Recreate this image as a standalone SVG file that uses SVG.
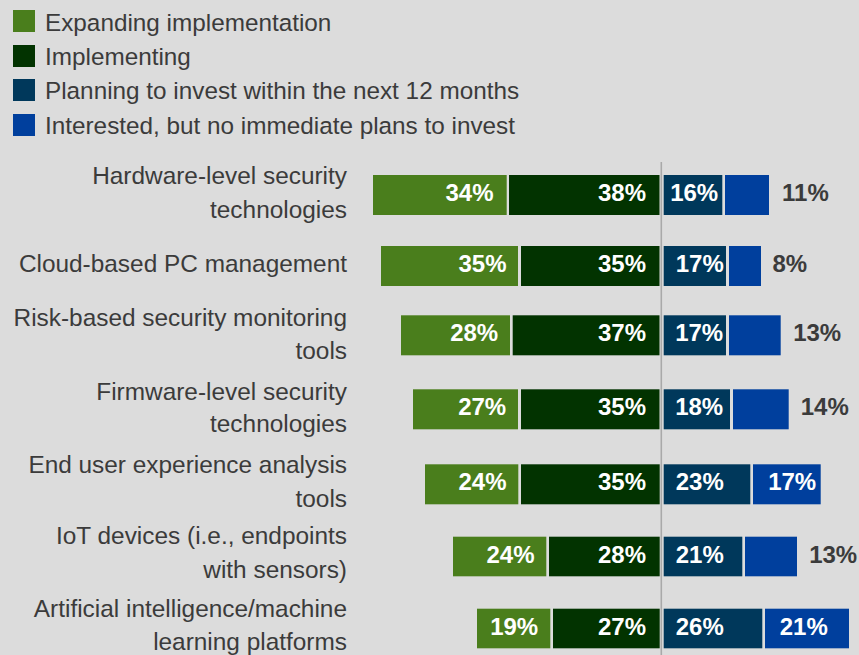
<svg xmlns="http://www.w3.org/2000/svg" width="859" height="655" viewBox="0 0 859 655">
<style>
.bg{fill:#dcdcdc}
.g{fill:#4a7e1c}
.d{fill:#023300}
.n{fill:#00385b}
.b{fill:#003f9d}
.lg{font-family:"Liberation Sans",Arial,Helvetica,sans-serif;font-size:24.3px;fill:#3b3b3b}
.lb{font-family:"Liberation Sans",Arial,Helvetica,sans-serif;font-size:24.4px;fill:#3b3b3b;text-anchor:end}
.v{font-family:"Liberation Sans",Arial,Helvetica,sans-serif;font-size:24px;font-weight:bold;fill:#ffffff;text-anchor:end}
.o{font-family:"Liberation Sans",Arial,Helvetica,sans-serif;font-size:24px;font-weight:bold;fill:#3b3b3b;text-anchor:end}
.axis{stroke:#a9a9a9;stroke-width:1.6;fill:none}
</style>
<rect class="bg" x="0" y="0" width="859" height="655"/>
<g id="legend">
<rect class="g" x="13" y="10" width="22" height="22"/>
<text class="lg" x="45" y="30.5">Expanding implementation</text>
<rect class="d" x="13" y="45" width="22" height="22"/>
<text class="lg" x="45" y="64.5">Implementing</text>
<rect class="n" x="13" y="79" width="22" height="22"/>
<text class="lg" x="45" y="99">Planning to invest within the next 12 months</text>
<rect class="b" x="13" y="114" width="22" height="22"/>
<text class="lg" x="45" y="133.5">Interested, but no immediate plans to invest</text>
</g>
<g id="connectors">
<line class="axis" x1="661.3" y1="162" x2="661.3" y2="655"/>
</g>
<g id="row1">
<text class="lb" x="347" y="184">Hardware-level security</text>
<text class="lb" x="347" y="217.5">technologies</text>
<rect class="g" x="373" y="175" width="133.7" height="40"/>
<rect class="d" x="509" y="175" width="150.5" height="40"/>
<rect class="n" x="663.7" y="175" width="58.6" height="40"/>
<rect class="b" x="725" y="175" width="44" height="40"/>
<text class="v" x="493.5" y="201">34%</text>
<text class="v" x="646" y="201">38%</text>
<text class="v" x="718.2" y="201">16%</text>
<text class="o" x="828.8" y="201">11%</text>
</g>
<g id="row2">
<text class="lb" x="347" y="271.7">Cloud-based PC management</text>
<rect class="g" x="381" y="246" width="137" height="40"/>
<rect class="d" x="521" y="246" width="138.5" height="40"/>
<rect class="n" x="663.7" y="246" width="62.3" height="40"/>
<rect class="b" x="729" y="246" width="32" height="40"/>
<text class="v" x="506.5" y="272">35%</text>
<text class="v" x="646" y="272">35%</text>
<text class="v" x="723.8" y="272">17%</text>
<text class="o" x="807.2" y="272">8%</text>
</g>
<g id="row3">
<text class="lb" x="347" y="326">Risk-based security monitoring</text>
<text class="lb" x="347" y="359.3">tools</text>
<rect class="g" x="401" y="315.3" width="109" height="40"/>
<rect class="d" x="512.7" y="315.3" width="146.8" height="40"/>
<rect class="n" x="663.7" y="315.3" width="62.3" height="40"/>
<rect class="b" x="729" y="315.3" width="51.7" height="40"/>
<text class="v" x="498.2" y="341.3">28%</text>
<text class="v" x="646" y="341.3">37%</text>
<text class="v" x="723.2" y="341.3">17%</text>
<text class="o" x="841.2" y="341.3">13%</text>
</g>
<g id="row4">
<text class="lb" x="347" y="400">Firmware-level security</text>
<text class="lb" x="347" y="431.7">technologies</text>
<rect class="g" x="413" y="389.3" width="105" height="40"/>
<rect class="d" x="521" y="389.3" width="138.5" height="40"/>
<rect class="n" x="663.7" y="389.3" width="66.3" height="40"/>
<rect class="b" x="733" y="389.3" width="55.7" height="40"/>
<text class="v" x="506.2" y="415.3">27%</text>
<text class="v" x="646" y="415.3">35%</text>
<text class="v" x="723.2" y="415.3">18%</text>
<text class="o" x="848.8" y="415.3">14%</text>
</g>
<g id="row5">
<text class="lb" x="347" y="473.3">End user experience analysis</text>
<text class="lb" x="347" y="506.7">tools</text>
<rect class="g" x="425" y="464.3" width="93.3" height="40"/>
<rect class="d" x="521" y="464.3" width="138.7" height="40"/>
<rect class="n" x="663.7" y="464.3" width="86.6" height="40"/>
<rect class="b" x="753" y="464.3" width="67.7" height="40"/>
<text class="v" x="506.5" y="490.3">24%</text>
<text class="v" x="646" y="490.3">35%</text>
<text class="v" x="723.8" y="490.3">23%</text>
<text class="v" x="816.2" y="490.3">17%</text>
</g>
<g id="row6">
<text class="lb" x="347" y="544.3">IoT devices (i.e., endpoints</text>
<text class="lb" x="347" y="577.7">with sensors)</text>
<rect class="g" x="453" y="536.7" width="93.3" height="39.6"/>
<rect class="d" x="549" y="536.7" width="110.7" height="39.6"/>
<rect class="n" x="663.7" y="536.7" width="78.6" height="39.6"/>
<rect class="b" x="745" y="536.7" width="52" height="39.6"/>
<text class="v" x="534.5" y="562.5">24%</text>
<text class="v" x="646" y="562.5">28%</text>
<text class="v" x="723.8" y="562.5">21%</text>
<text class="o" x="857.2" y="562.5">13%</text>
</g>
<g id="row7">
<text class="lb" x="347" y="616.7">Artificial intelligence/machine</text>
<text class="lb" x="347" y="650">learning platforms</text>
<rect class="g" x="477" y="608.7" width="73.3" height="39.6"/>
<rect class="d" x="553" y="608.7" width="106.7" height="39.6"/>
<rect class="n" x="663.7" y="608.7" width="98.6" height="39.6"/>
<rect class="b" x="765" y="608.7" width="84" height="39.6"/>
<text class="v" x="538.2" y="634.5">19%</text>
<text class="v" x="646" y="634.5">27%</text>
<text class="v" x="723.8" y="634.5">26%</text>
<text class="v" x="827.8" y="634.5">21%</text>
</g>
</svg>
